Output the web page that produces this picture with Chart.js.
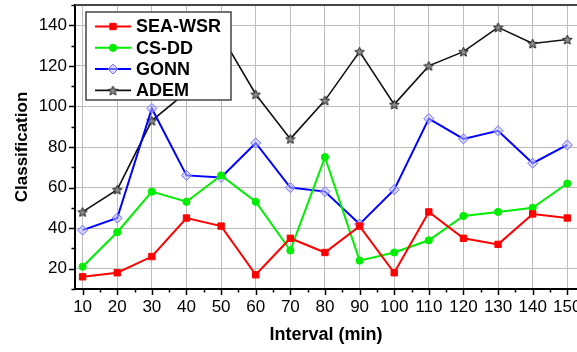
<!DOCTYPE html>
<html>
<head>
<meta charset="utf-8">
<script src="https://cdn.jsdelivr.net/npm/chart.js@4/dist/chart.umd.min.js"></script>
<style>
  html, body { margin: 0; padding: 0; background: #fff; }
  #chart { display: block; }
</style>
</head>
<body>
<canvas id="chart" width="577" height="352"></canvas>
<script>
// interval in minutes along x
const intervals = [10, 20, 30, 40, 50, 60, 70, 80, 90, 100, 110, 120, 130, 140, 150];

// classification counts per method
const seaWsr = [16, 18, 26, 45, 41, 17, 35, 28, 41, 18, 48, 35, 32, 47, 45];
const csDd   = [21, 38, 58, 53, 66, 53, 29, 75, 24, 28, 34, 46, 48, 50, 62];
const gonn   = [39, 45, 99, 66, 65, 82, 60, 58, 42, 59, 94, 84, 88, 72, 81];
const adem   = [48, 59, 93, 107, 135, 106, 84, 103, 127, 101, 120, 127, 139, 131, 133];

const xTicks = [10, 20, 30, 40, 50, 60, 70, 80, 90, 100, 110, 120, 130, 140, 150];
const yTicks = [20, 40, 60, 80, 100, 120, 140];

const FONT = "'Liberation Sans', Arial, sans-serif";

// small outlined star used as the ADEM marker
function makeStar(size, fill, stroke) {
  const c = document.createElement("canvas");
  c.width = c.height = size;
  const g = c.getContext("2d");
  const cx = size / 2, cy = size / 2 + 0.5, R = size / 2 - 0.5, r = R * 0.45;
  g.beginPath();
  for (let i = 0; i < 10; i++) {
    const a = -Math.PI / 2 + i * Math.PI / 5;
    const rad = i % 2 ? r : R;
    g.lineTo(cx + rad * Math.cos(a), cy + rad * Math.sin(a));
  }
  g.closePath();
  g.fillStyle = fill;
  g.fill();
  g.strokeStyle = stroke;
  g.lineWidth = 1;
  g.stroke();
  return c;
}
const starMark = makeStar(11, "#8a8a8a", "#222");

const toPoints = (ys) => ys.map((y, i) => ({ x: intervals[i], y }));

const series = (label, data, color, style, radius, fill, width) => ({
  label,
  data: toPoints(data),
  borderColor: color,
  backgroundColor: fill,
  borderWidth: width,
  pointStyle: style,
  pointRadius: radius,
  pointBorderColor: style === "rectRot" ? "#6b6bff" : color,
  pointBackgroundColor: fill,
  pointBorderWidth: 1,
  tension: 0
});

// outward major/minor ticks and the top frame line
const axisTicks = {
  id: "axisTicks",
  afterDraw(chart) {
    const { ctx, chartArea: a, scales: { x, y } } = chart;
    ctx.save();
    ctx.strokeStyle = "#000";
    ctx.lineWidth = 1.5;
    ctx.beginPath();
    for (let v = 5; v <= x.max; v += 5) {
      if (v < x.min) continue;
      const px = Math.round(x.getPixelForValue(v)) + 0.5;
      const len = v % 10 === 0 ? 6 : 3.5;
      ctx.moveTo(px, a.bottom);
      ctx.lineTo(px, a.bottom + len);
    }
    for (let v = 10; v <= y.max; v += 10) {
      const py = Math.round(y.getPixelForValue(v)) + 0.5;
      const len = v % 20 === 0 ? 6 : 3.5;
      ctx.moveTo(a.left, py);
      ctx.lineTo(a.left - len, py);
    }
    ctx.stroke();
    ctx.strokeStyle = "#444";
    ctx.lineWidth = 2;
    ctx.beginPath();
    ctx.moveTo(a.left, a.top);
    ctx.lineTo(a.right, a.top);
    ctx.stroke();
    ctx.restore();
  }
};

// boxed legend in the upper left of the plot, line + marker per series
const boxLegend = {
  id: "boxLegend",
  afterDatasetsDraw(chart) {
    const { ctx, chartArea: a } = chart;
    const left = a.left + 11, top = a.top + 7, w = 145, h = 88;
    ctx.save();
    ctx.fillStyle = "#fff";
    ctx.fillRect(left, top, w, h);
    ctx.strokeStyle = "#444";
    ctx.lineWidth = 1.5;
    ctx.strokeRect(left, top, w, h);
    chart.data.datasets.forEach((ds, i) => {
      const cy = top + 14.5 + i * 21.3;
      ctx.strokeStyle = ds.borderColor;
      ctx.lineWidth = ds.borderWidth;
      ctx.beginPath();
      ctx.moveTo(left + 9, cy);
      ctx.lineTo(left + 45, cy);
      ctx.stroke();
      ctx.fillStyle = ds.pointBackgroundColor;
      ctx.strokeStyle = ds.pointBorderColor;
      ctx.lineWidth = ds.pointBorderWidth;
      Chart.helpers.drawPoint(ctx, {
        pointStyle: ds.pointStyle,
        radius: ds.pointRadius,
        rotation: 0,
        borderWidth: ds.pointBorderWidth
      }, left + 27, cy);
      ctx.fillStyle = "#000";
      ctx.font = "bold 18px " + FONT;
      ctx.textBaseline = "middle";
      ctx.fillText(ds.label, left + 50, cy + 1);
    });
    ctx.restore();
  }
};

new Chart(document.getElementById("chart"), {
  type: "line",
  data: {
    datasets: [
      series("SEA-WSR", seaWsr, "#ff0000", "rect", 4.5, "#ff0000", 2),
      series("CS-DD", csDd, "#00ee00", "circle", 3.6, "#00ee00", 2),
      series("GONN", gonn, "#0000ff", "rectRot", 5, "rgba(190,190,255,0.55)", 2),
      series("ADEM", adem, "#111111", starMark, 5, "#8a8a8a", 1.6)
    ]
  },
  options: {
    responsive: false,
    animation: false,
    devicePixelRatio: 1,
    layout: { autoPadding: false, padding: { top: 5, right: 0, left: 0, bottom: 0 } },
    plugins: {
      legend: { display: false },
      tooltip: { enabled: false }
    },
    scales: {
      x: {
        type: "linear",
        min: 7.8,
        max: 152.8,
        afterBuildTicks: (s) => { s.ticks = xTicks.map(v => ({ value: v })); },
        afterFit: (s) => { s.height = 63; s.paddingLeft = 0; s.paddingRight = 0; },
        ticks: {
          autoSkip: false,
          maxRotation: 0,
          padding: 8,
          color: "#000",
          font: { family: FONT, size: 17 }
        },
        grid: { color: "#bdbdbd", lineWidth: 1, drawTicks: false },
        border: { color: "#000", width: 2 },
        title: {
          display: true,
          text: "Interval (min)",
          color: "#000",
          font: { family: FONT, size: 18, weight: "bold" },
          padding: { top: 0, bottom: 6 }
        }
      },
      y: {
        min: 10,
        max: 150,
        afterBuildTicks: (s) => { s.ticks = yTicks.map(v => ({ value: v })); },
        afterFit: (s) => { s.width = 75; s.paddingTop = 0; s.paddingBottom = 0; },
        ticks: {
          padding: 8,
          color: "#000",
          font: { family: FONT, size: 17 }
        },
        grid: { color: "#bdbdbd", lineWidth: 1, drawTicks: false },
        border: { color: "#000", width: 2 },
        title: {
          display: true,
          text: "Classification",
          color: "#000",
          font: { family: FONT, size: 17, weight: "bold" },
          padding: { top: 12, bottom: 0 }
        }
      }
    }
  },
  plugins: [axisTicks, boxLegend]
});
</script>
</body>
</html>
